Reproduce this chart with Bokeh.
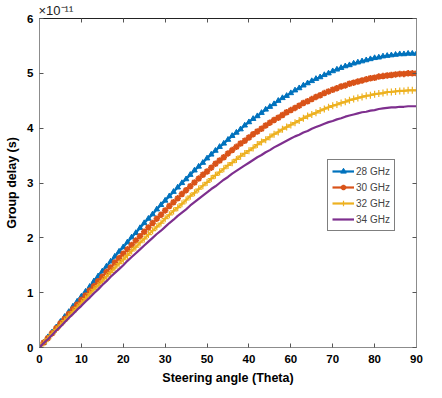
from bokeh.plotting import figure
from bokeh.models import LinearAxis, Legend, LegendItem, FixedTicker, Range1d
from bokeh.embed import file_html
from bokeh.resources import INLINE

theta = list(range(0, 91))

gd_28 = [0.00, 0.09, 0.19, 0.28, 0.37, 0.47, 0.56, 0.65, 0.75, 0.84,
         0.93, 1.02, 1.11, 1.21, 1.30, 1.39, 1.48, 1.57, 1.66, 1.75,
         1.83, 1.92, 2.01, 2.09, 2.18, 2.27, 2.35, 2.43, 2.52, 2.60,
         2.68, 2.76, 2.84, 2.92, 3.00, 3.07, 3.15, 3.23, 3.30, 3.37,
         3.45, 3.52, 3.59, 3.66, 3.72, 3.79, 3.86, 3.92, 3.98, 4.05,
         4.11, 4.17, 4.22, 4.28, 4.34, 4.39, 4.44, 4.50, 4.55, 4.59,
         4.64, 4.69, 4.73, 4.78, 4.82, 4.86, 4.90, 4.93, 4.97, 5.00,
         5.04, 5.07, 5.10, 5.13, 5.15, 5.18, 5.20, 5.22, 5.24, 5.26,
         5.28, 5.29, 5.31, 5.32, 5.33, 5.34, 5.35, 5.35, 5.36, 5.36, 5.36]

gd_30 = [0.00, 0.09, 0.17, 0.26, 0.35, 0.44, 0.52, 0.61, 0.70, 0.78,
         0.87, 0.95, 1.04, 1.12, 1.21, 1.29, 1.38, 1.46, 1.55, 1.63,
         1.71, 1.79, 1.87, 1.95, 2.03, 2.11, 2.19, 2.27, 2.35, 2.42,
         2.50, 2.58, 2.65, 2.72, 2.80, 2.87, 2.94, 3.01, 3.08, 3.15,
         3.21, 3.28, 3.35, 3.41, 3.47, 3.54, 3.60, 3.66, 3.72, 3.77,
         3.83, 3.89, 3.94, 3.99, 4.05, 4.10, 4.15, 4.19, 4.24, 4.29,
         4.33, 4.37, 4.41, 4.46, 4.49, 4.53, 4.57, 4.60, 4.64, 4.67,
         4.70, 4.73, 4.76, 4.78, 4.81, 4.83, 4.85, 4.87, 4.89, 4.91,
         4.92, 4.94, 4.95, 4.96, 4.97, 4.98, 4.99, 4.99, 5.00, 5.00, 5.00]

gd_32 = [0.00, 0.08, 0.16, 0.25, 0.33, 0.41, 0.49, 0.57, 0.65, 0.73,
         0.81, 0.89, 0.98, 1.06, 1.13, 1.21, 1.29, 1.37, 1.45, 1.53,
         1.60, 1.68, 1.76, 1.83, 1.91, 1.98, 2.06, 2.13, 2.20, 2.27,
         2.35, 2.42, 2.49, 2.55, 2.62, 2.69, 2.76, 2.82, 2.89, 2.95,
         3.01, 3.08, 3.14, 3.20, 3.26, 3.32, 3.37, 3.43, 3.49, 3.54,
         3.59, 3.64, 3.70, 3.75, 3.79, 3.84, 3.89, 3.93, 3.98, 4.02,
         4.06, 4.10, 4.14, 4.18, 4.22, 4.25, 4.28, 4.32, 4.35, 4.38,
         4.41, 4.43, 4.46, 4.48, 4.51, 4.53, 4.55, 4.57, 4.59, 4.60,
         4.62, 4.63, 4.64, 4.66, 4.66, 4.67, 4.68, 4.68, 4.69, 4.69, 4.69]

gd_34 = [0.00, 0.08, 0.15, 0.23, 0.31, 0.38, 0.46, 0.54, 0.61, 0.69,
         0.76, 0.84, 0.91, 0.99, 1.06, 1.14, 1.21, 1.29, 1.36, 1.43,
         1.50, 1.58, 1.65, 1.72, 1.79, 1.86, 1.93, 2.00, 2.07, 2.13,
         2.20, 2.27, 2.33, 2.40, 2.46, 2.52, 2.59, 2.65, 2.71, 2.77,
         2.83, 2.89, 2.94, 3.00, 3.06, 3.11, 3.17, 3.22, 3.27, 3.32,
         3.37, 3.42, 3.47, 3.51, 3.56, 3.60, 3.65, 3.69, 3.73, 3.77,
         3.81, 3.85, 3.88, 3.92, 3.95, 3.99, 4.02, 4.05, 4.08, 4.11,
         4.13, 4.16, 4.18, 4.21, 4.23, 4.25, 4.27, 4.29, 4.30, 4.32,
         4.33, 4.35, 4.36, 4.37, 4.38, 4.38, 4.39, 4.39, 4.40, 4.40, 4.40]

series_names = ["28 GHz", "30 GHz", "32 GHz", "34 GHz"]
x_ticks = [0, 10, 20, 30, 40, 50, 60, 70, 80, 90]
x_tick_labels = ["0", "10", "20", "30", "50", "40", "60", "70", "80", "90"]
y_ticks = [0, 1, 2, 3, 4, 5, 6]
y_exponent = "×10⁻¹¹"

colors = ["#0072BD", "#D95319", "#EDB120", "#7E2F8E"]
markers = ["triangle", "asterisk", "cross", None]

FONT = "Liberation Sans"
AX_COLOR = "#8c8c8c"

p = figure(width=440, height=396, output_backend="svg", toolbar_location=None,
           x_range=Range1d(0, 90), y_range=Range1d(0, 6),
           min_border_left=39, min_border_right=24, min_border_top=18,
           min_border_bottom=49)
p.xgrid.visible = False
p.ygrid.visible = False
p.outline_line_color = None
p.background_fill_color = "white"

p.title.text = y_exponent
p.title.align = "left"
p.title.text_font = FONT
p.title.text_font_style = "normal"
p.title.text_font_size = "13px"
p.title.text_color = "#222222"
p.title.offset = -1
p.title.standoff = 1

for ax, ticks, in ((p.xaxis[0], x_ticks), (p.yaxis[0], y_ticks)):
    ax.ticker = FixedTicker(ticks=ticks)
    ax.major_tick_in = 4
    ax.major_tick_out = 0
    ax.minor_tick_line_color = None
    ax.axis_line_color = AX_COLOR
    ax.major_tick_line_color = "#555555"
    ax.major_label_text_font = FONT
    ax.major_label_text_font_style = "bold"
    ax.major_label_text_font_size = "11.5px"
    ax.major_label_text_color = "black"
    ax.axis_label_text_font = FONT
    ax.axis_label_text_font_style = "bold"
    ax.axis_label_text_font_size = "12.5px"
    ax.axis_label_text_color = "black"

p.xaxis[0].major_label_overrides = {t: l for t, l in zip(x_ticks, x_tick_labels)}
p.xaxis[0].axis_label = "Steering angle (Theta)"
p.xaxis[0].major_label_standoff = 7
p.xaxis[0].axis_label_standoff = 5
p.yaxis[0].axis_label = "Group delay (s)"
p.yaxis[0].major_label_standoff = 6
p.yaxis[0].axis_label_standoff = 5

for loc, ticks, col in (("above", x_ticks, "#222222"), ("right", y_ticks, AX_COLOR)):
    ax = LinearAxis(ticker=FixedTicker(ticks=ticks), major_tick_in=4, major_tick_out=0,
                    minor_tick_line_color=None, axis_line_color=col,
                    major_tick_line_color="#555555",
                    major_label_overrides={t: "" for t in ticks},
                    major_label_text_font_size="1px", major_label_standoff=0,
                    axis_label_standoff=0)
    p.add_layout(ax, loc)

items = []
for name, ys, c, m in zip(series_names, [gd_28, gd_30, gd_32, gd_34], colors, markers):
    rs = [p.line(theta, ys, line_color=c, line_width=2.2)]
    if m is not None:
        if m == "triangle":
            rs.append(p.scatter(theta, ys, marker=m, size=5.5, fill_color=c, line_color=c))
        elif m == "asterisk":
            rs.append(p.scatter(theta, ys, marker=m, size=6.5, line_color=c, line_width=1.8))
        else:
            rs.append(p.scatter(theta, ys, marker=m, size=7, line_color=c, line_width=1.2))
    items.append(LegendItem(label=name, renderers=rs))

legend = Legend(items=items, location=(288, 116))
legend.label_text_font = FONT
legend.label_text_font_size = "10px"
legend.glyph_width = 22
legend.glyph_height = 14
legend.label_height = 14
legend.spacing = 2
legend.padding = 4
legend.margin = 0
legend.label_standoff = 2
legend.border_line_color = "black"
legend.border_line_width = 1
legend.background_fill_color = "white"
legend.background_fill_alpha = 1
p.add_layout(legend, "center")

open("out.html", "w").write(file_html(p, INLINE))
